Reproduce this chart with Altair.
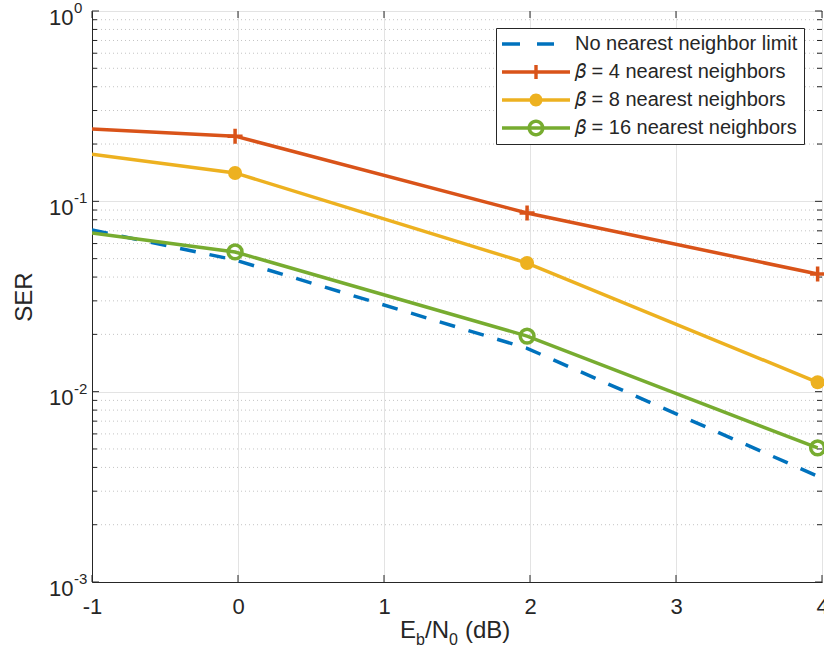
import altair as alt
import pandas as pd

# ---------------- data ----------------
x_vals = [-1.0, -0.02, 1.98, 3.97]
has_marker = [False, True, True, True]
ser_none = [0.0707, 0.0492, 0.0169, 0.0036]
ser_b4 = [0.240, 0.220, 0.0868, 0.0415]
ser_b8 = [0.177, 0.141, 0.0474, 0.0112]
ser_b16 = [0.0682, 0.0542, 0.0196, 0.00506]

labels = ["No nearest neighbor limit", "𝛽 = 4 nearest neighbors",
          "𝛽 = 8 nearest neighbors", "𝛽 = 16 nearest neighbors"]
colors = ["#0072BD", "#D95319", "#EDB120", "#77AC30"]
series_vals = [ser_none, ser_b4, ser_b8, ser_b16]

x_ticks = [-1, 0, 1, 2, 3, 4]
y_major = [0.001, 0.01, 0.1, 1.0]
y_exps = ["-3", "-2", "-1", "0"]
y_minor = [k * 10.0 ** e for e in (-3, -2, -1) for k in range(2, 10)]

rows = []
for lab, vals in zip(labels, series_vals):
    for xv, yv, m in zip(x_vals, vals, has_marker):
        rows.append({"series": lab, "x": xv, "y": yv, "marker": m})
df = pd.DataFrame(rows)
df_minor = pd.DataFrame({"v": y_minor})
df_major = pd.DataFrame({"v": y_major, "e": y_exps})
df_xt = pd.DataFrame({"t": x_ticks})

# ---------------- layout ----------------
W, H = 730, 571
FONT = "Liberation Sans"
TXT = "#262626"
LW = 3.5

xs = alt.Scale(domain=[-1, 4], nice=False, zero=False)
ys = alt.Scale(type="log", domain=[0.001, 1], nice=False)

X = alt.X("x:Q", scale=xs, axis=alt.Axis(
    values=x_ticks, format="d", labelExpr="replace(datum.label, '\u2212', '-')",
    title=None, tickSize=0, labelPadding=14,
    labelFontSize=22, labelFont=FONT, labelColor=TXT, grid=True,
    gridColor="#e3e3e3", domainColor=TXT, labelFlush=False))
Y = alt.Y("y:Q", scale=ys, axis=alt.Axis(
    values=y_major, labelExpr="'10'", title="SER", tickSize=0, labelPadding=19,
    labelOffset=6,
    labelFontSize=22, labelFont=FONT, labelColor=TXT, grid=True,
    gridColor="#e3e3e3", domainColor=TXT, titleFontSize=24, titleFont=FONT,
    titleColor=TXT, titleFontWeight="normal", titlePadding=12))

base = alt.Chart(df)

minor = alt.Chart(df_minor).mark_rule(color="#c4c4c4", strokeWidth=1, strokeDash=[1, 3]).encode(
    y=alt.Y("v:Q", scale=ys))

layers = [base.mark_point(opacity=0).encode(x=X, y=Y), minor]

# inward tick marks
layers.append(alt.Chart(df_xt).mark_rule(color=TXT).encode(
    x=alt.X("t:Q", scale=xs), y=alt.value(H), y2=alt.value(H - 7)))
layers.append(alt.Chart(df_xt).mark_rule(color=TXT).encode(
    x=alt.X("t:Q", scale=xs), y=alt.value(0), y2=alt.value(7)))
layers.append(alt.Chart(df_major).mark_rule(color=TXT).encode(
    y=alt.Y("v:Q", scale=ys), x=alt.value(0), x2=alt.value(7)))
layers.append(alt.Chart(df_major).mark_rule(color=TXT).encode(
    y=alt.Y("v:Q", scale=ys), x=alt.value(W), x2=alt.value(W - 7)))
layers.append(alt.Chart(df_minor).mark_rule(color=TXT).encode(
    y=alt.Y("v:Q", scale=ys), x=alt.value(0), x2=alt.value(5)))
layers.append(alt.Chart(df_minor).mark_rule(color=TXT).encode(
    y=alt.Y("v:Q", scale=ys), x=alt.value(W), x2=alt.value(W - 5)))

# exponent labels of the y axis
layers.append(alt.Chart(df_major).mark_text(
    align="left", baseline="middle", dy=-3, fontSize=15, font=FONT, color=TXT).encode(
    y=alt.Y("v:Q", scale=ys), x=alt.value(-18), text="e:N"))

# x-axis title with subscripts
title_parts = [("E", 308, 627, 24), ("b", 324, 634, 16), ("/N", 333, 627, 24),
               ("0", 357, 634, 16), ("(dB)", 373, 627, 24)]
for t, px, py, fs in title_parts:
    layers.append(alt.Chart(pd.DataFrame({"t": [t]})).mark_text(
        align="left", baseline="alphabetic", fontSize=fs, font=FONT, color=TXT).encode(
        x=alt.value(px), y=alt.value(py), text="t:N"))

# series lines and markers
plus_path = "M-1,0H1M0,-1V1"
for i, (lab, col) in enumerate(zip(labels, colors)):
    sub = base.transform_filter(alt.datum.series == lab)
    line_kw = dict(color=col, strokeWidth=LW, clip=True)
    if i == 0:
        line_kw["strokeDash"] = [16, 14]
    layers.append(sub.mark_line(**line_kw).encode(x=X, y=Y, order="x:Q"))
    msub = sub.transform_filter(alt.datum.marker == True)
    if i == 1:
        layers.append(msub.mark_point(shape=plus_path, size=225, filled=False, color=col,
                                      strokeWidth=LW, opacity=1).encode(x=X, y=Y))
    elif i == 2:
        layers.append(msub.mark_point(shape="circle", size=196, filled=True, color=col,
                                      opacity=1).encode(x=X, y=Y))
    elif i == 3:
        layers.append(msub.mark_point(shape="circle", size=190, filled=False, color=col,
                                      strokeWidth=LW, opacity=1).encode(x=X, y=Y))

# legend (custom filled symbol paths: line + marker); 1 unit = 10 px
t = 0.17
L0, L1, C = -1.0, 5.8, 2.4
rect = f"M{L0},-{t}H{L1}V{t}H{L0}Z"
dash_path = f"M{L0},-{t}H0.8V{t}H{L0}ZM2.5,-{t}H4.2V{t}H2.5Z"
plus_leg = rect + f"M{C-0.7},-{t}H{C+0.7}V{t}H{C-0.7}ZM{C-t},-0.7H{C+t}V0.7H{C-t}Z"
circ_leg = rect + f"M{C+0.65},0A0.65,0.65 0 1,1 {C-0.65},0A0.65,0.65 0 1,1 {C+0.65},0Z"
ring_leg = (rect + f"M{C+0.85},0A0.85,0.85 0 1,1 {C-0.85},0A0.85,0.85 0 1,1 {C+0.85},0Z"
            + f"M{C+0.5},0A0.5,0.5 0 1,0 {C-0.5},0A0.5,0.5 0 1,0 {C+0.5},0Z")
leg_paths = [dash_path, plus_leg, circ_leg, ring_leg]

leg = alt.Legend(title=None, orient="none", legendX=404, legendY=17,
                 symbolSize=400, symbolOpacity=1, symbolStrokeWidth=0,
                 labelFontSize=20, labelFont=FONT, labelColor=TXT, labelOffset=53,
                 fillColor="white", strokeColor=TXT, padding=6, rowPadding=8,
                 labelLimit=400)
layers.append(base.transform_filter(alt.datum.marker == False).mark_point(
    filled=True, opacity=0).encode(
    x=X, y=Y,
    color=alt.Color("series:N", scale=alt.Scale(domain=labels, range=colors), legend=leg),
    shape=alt.Shape("series:N", scale=alt.Scale(domain=labels, range=leg_paths), legend=leg)))

chart = alt.layer(*layers).properties(
    width=W, height=H,
    autosize=alt.AutoSizeParams(type="none"),
    padding={"left": 92, "top": 11, "right": 2, "bottom": 82},
    background="white",
).configure_view(stroke=TXT, strokeWidth=1)

chart.save("out.html", embed_options={"renderer": "svg", "actions": False})
